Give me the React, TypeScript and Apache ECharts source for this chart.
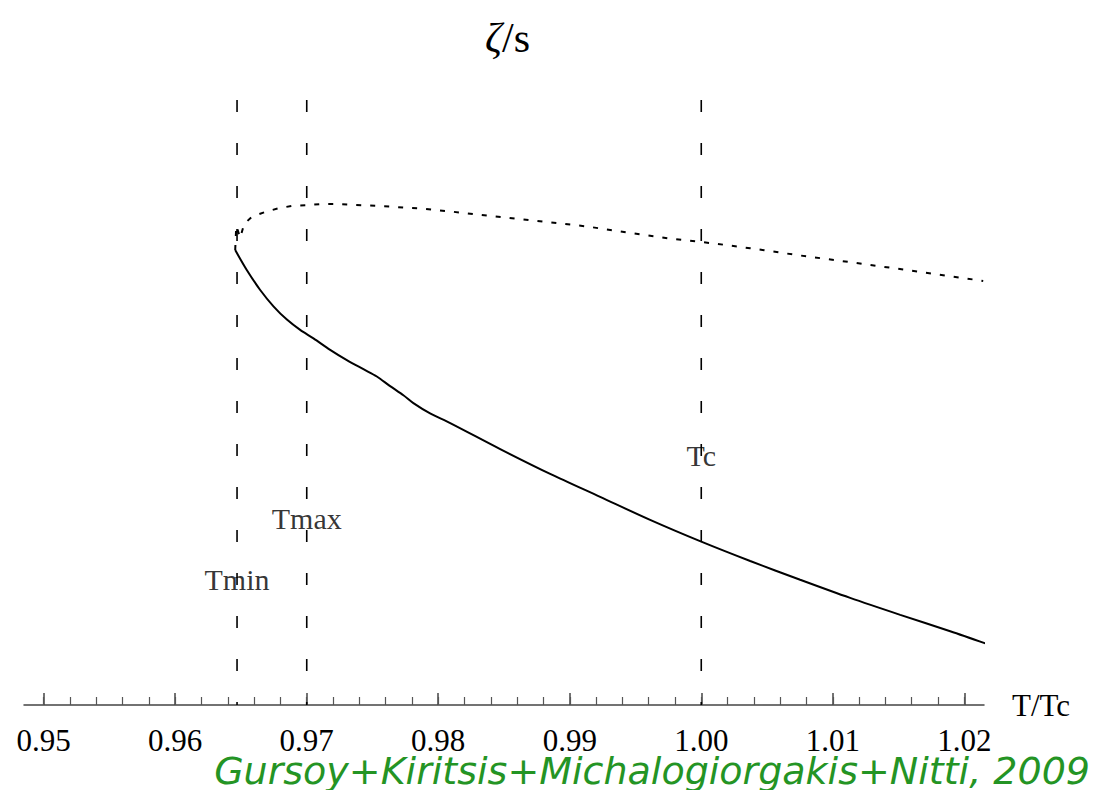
import React, { useEffect, useRef } from "react";
import * as echarts from "echarts";

// Lower branch (solid)
const solidT = [0.96456, 0.96544, 0.96646, 0.96747, 0.96849, 0.9695, 0.97051, 0.97178, 0.97305, 0.97431, 0.97533, 0.97634, 0.97735, 0.97811, 0.97938, 0.98091, 0.98471, 0.98851, 0.99231, 0.99611, 1.0, 1.00372, 1.00752, 1.01132, 1.01513, 1.01893, 1.02172];
const solidZeta = [0.752, 0.719, 0.686, 0.659, 0.637, 0.62, 0.606, 0.587, 0.57, 0.555, 0.543, 0.527, 0.512, 0.499, 0.482, 0.466, 0.423, 0.382, 0.344, 0.306, 0.27, 0.238, 0.207, 0.177, 0.149, 0.122, 0.101];

// Upper branch (dotted)
const dashT = [0.96456, 0.96464, 0.96494, 0.96524, 0.96583, 0.96684, 0.96785, 0.96887, 0.97001, 0.97102, 0.97216, 0.9733, 0.97431, 0.97533, 0.97634, 0.97748, 0.97862, 0.98166, 0.98496, 0.988, 0.9913, 0.99434, 0.99763, 1.00093, 1.00372, 1.00752, 1.01132, 1.01563, 1.02144];
const dashZeta = [0.752, 0.792, 0.772, 0.795, 0.807, 0.815, 0.821, 0.825, 0.826, 0.828, 0.828, 0.827, 0.826, 0.825, 0.824, 0.822, 0.821, 0.814, 0.806, 0.799, 0.791, 0.781, 0.771, 0.763, 0.755, 0.743, 0.732, 0.719, 0.701];

// Reference temperatures
const markerNames = ["Tmin", "Tmax", "Tc"];
const markerT = [0.9647, 0.97, 1.0];
const markerLabelZeta = [0.207, 0.309, 0.413];

// Axis ticks
const tickValues = [0.95, 0.96, 0.97, 0.98, 0.99, 1.0, 1.01, 1.02];
const tickLabels = ["0.95", "0.96", "0.97", "0.98", "0.99", "1.00", "1.01", "1.02"];
const minorTickValues: number[] = [];
for (let i = 0; i <= 35; i++) minorTickValues.push(Math.round((0.95 + i * 0.002) * 1000) / 1000);

const X_MIN = 0.9485;
const X_MAX = 1.0215;
const Y_TOP = 1.0;

const serif = '"Liberation Serif", "Times New Roman", serif';

export default function App() {
  const ref = useRef<HTMLDivElement>(null);
  useEffect(() => {
    if (!ref.current) return;
    const chart = echarts.init(ref.current, undefined, { renderer: "svg" });
    const vLines = markerT.map((t, i) => ({
      type: "line",
      name: markerNames[i] + " line",
      data: [
        [t, Y_TOP],
        [t, 0],
      ],
      symbol: "none",
      silent: true,
      clip: false,
      lineStyle: { color: "#000", width: 1.6, type: [12, 31] },
    }));
    chart.setOption({
      animation: false,
      title: {
        text: "{a|ζ}{b|/s}",
        left: 480,
        top: 12,
        textStyle: {
          fontWeight: "normal",
          rich: {
            a: { fontFamily: serif, fontStyle: "italic", fontWeight: "normal", fontSize: 42, color: "#000" },
            b: { fontFamily: serif, fontWeight: "normal", fontSize: 42, color: "#000" },
          },
        },
      },
      grid: { left: 24, right: 122, top: 100, bottom: 85, containLabel: false },
      xAxis: [
        {
          type: "value",
          min: X_MIN,
          max: X_MAX,
          position: "bottom",
          name: "T/Tc",
          nameLocation: "end",
          nameGap: 28,
          nameTextStyle: { fontFamily: serif, fontSize: 31, color: "#000", verticalAlign: "middle" },
          axisLine: { show: true, lineStyle: { color: "#444", width: 1.5 } },
          axisTick: { show: true, inside: true, length: 12, customValues: tickValues, lineStyle: { color: "#444", width: 1.5 } },
          axisLabel: {
            show: true,
            customValues: tickValues,
            margin: 22,
            lineHeight: 26,
            fontFamily: serif,
            fontSize: 31,
            color: "#000",
            formatter: (v: number) => {
              const idx = tickValues.findIndex((t) => Math.abs(t - v) < 1e-6);
              return idx >= 0 ? tickLabels[idx] : "";
            },
          },
          splitLine: { show: false },
        },
        {
          type: "value",
          min: X_MIN,
          max: X_MAX,
          position: "bottom",
          offset: 0,
          axisLine: { show: false },
          axisTick: { show: true, inside: true, length: 8, customValues: minorTickValues, lineStyle: { color: "#555", width: 1.2 } },
          axisLabel: { show: false },
          splitLine: { show: false },
        },
      ],
      yAxis: { type: "value", min: 0, max: Y_TOP, show: false },
      graphic: [
        {
          type: "text",
          right: 16,
          top: 752,
          style: {
            text: "Gursoy+Kiritsis+Michalogiorgakis+Nitti, 2009",
            font: 'oblique 38px "DejaVu Sans", sans-serif',
            lineHeight: 26,
            fill: "#249424",
          },
        },
      ],
      series: [
        ...vLines,
        {
          type: "line",
          name: "lower branch",
          data: solidT.map((t, i) => [t, solidZeta[i]]),
          symbol: "none",
          clip: false,
          smooth: 0.3,
          lineStyle: { color: "#000", width: 2 },
        },
        {
          type: "line",
          name: "upper branch",
          data: dashT.map((t, i) => [t, dashZeta[i]]),
          symbol: "none",
          clip: false,
          smooth: false,
          lineStyle: { color: "#000", width: 2, type: [5, 9] },
        },
        {
          type: "scatter",
          name: "labels",
          symbolSize: 0,
          data: markerT.map((t, i) => ({ name: markerNames[i], value: [t, markerLabelZeta[i]] })),
          label: {
            show: true,
            position: "inside",
            formatter: (p: any) => p.name,
            fontFamily: serif,
            fontSize: 30,
            color: "#000",
          },
        },
      ],
    });
    return () => chart.dispose();
  }, []);
  return <div ref={ref} style={{ position: "absolute", left: 0, top: 0, width: 1106, height: 790 }} />;
}
